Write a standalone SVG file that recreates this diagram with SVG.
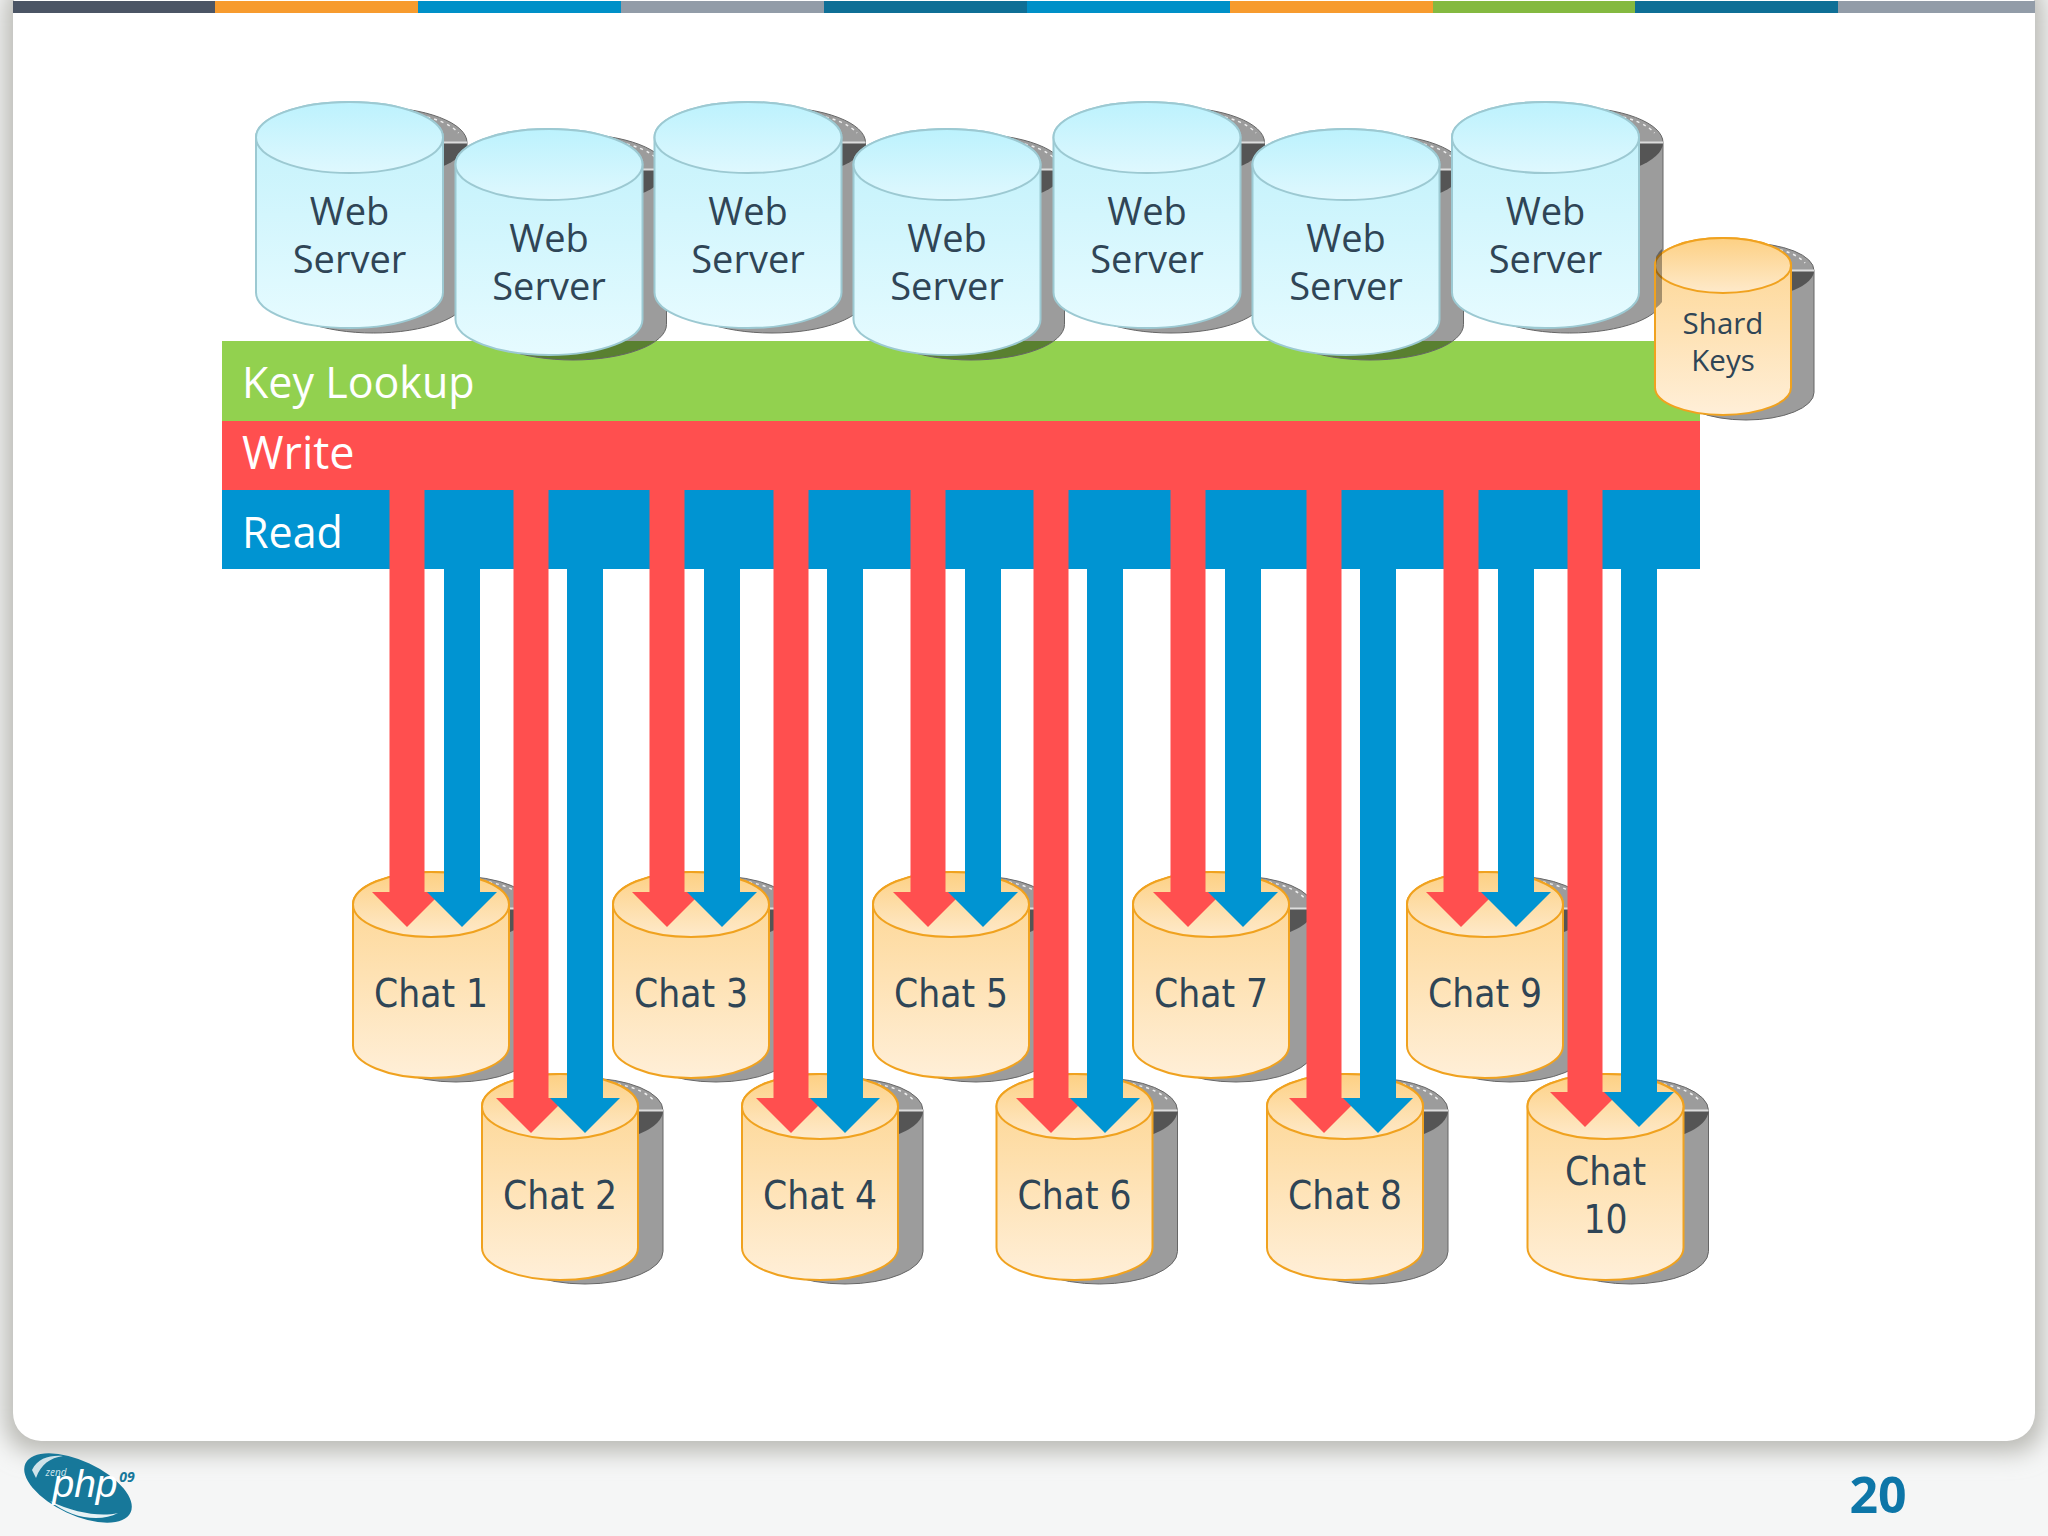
<svg xmlns="http://www.w3.org/2000/svg" xmlns:xlink="http://www.w3.org/1999/xlink" width="2048" height="1536" viewBox="0 0 2048 1536">
<style>
text{font-family:"Open Sans","Noto Sans","Liberation Sans",sans-serif;text-anchor:middle;fill:#2f4556}
.web{font-size:38px}.shard{font-size:29.500px}
.chat{font-family:"DejaVu Sans Condensed","DejaVu Sans",sans-serif;font-stretch:condensed;font-size:38.500px}
.band{font-size:43px;fill:#fff;text-anchor:start}
.sb{fill:#000;fill-opacity:.39;stroke:#666;stroke-width:1}
.sd{fill:#444;fill-opacity:.8}
.sl{stroke:#ddd;stroke-width:2;fill:none}
.sa{stroke:#eee;stroke-width:1.500;stroke-dasharray:3 4;fill:none}
.wb{fill:url(#webBody);stroke:#9cc9d2;stroke-width:2}
.wt{fill:url(#webTop);stroke:#9cc9d2;stroke-width:2}
.cb{fill:url(#chatBody);stroke:#f0a21f;stroke-width:2}
.ct{fill:url(#chatTop);stroke:#f0a21f;stroke-width:2}
.r{stroke:#ff4f4f;stroke-width:35;marker-end:url(#hr);fill:none}
.b{stroke:#0094d2;stroke-width:36;marker-end:url(#hb);fill:none}
</style>
<defs>
<filter id="soft" x="-5%" y="-5%" width="110%" height="110%"><feGaussianBlur stdDeviation="12"/></filter>
<linearGradient id="webBody" x1="0" y1="0" x2="0" y2="1"><stop offset="0" stop-color="#c0f1fb"/><stop offset="1" stop-color="#e6fbff"/></linearGradient>
<linearGradient id="webTop" x1="0" y1="0" x2="0" y2="1"><stop offset="0" stop-color="#bcf2fd"/><stop offset="1" stop-color="#dff8fe"/></linearGradient>
<linearGradient id="chatBody" x1="0" y1="0" x2="0" y2="1"><stop offset="0" stop-color="#fdd48e"/><stop offset="1" stop-color="#ffefd8"/></linearGradient>
<linearGradient id="chatTop" x1="0" y1="0" x2="0" y2="1"><stop offset="0" stop-color="#fdd083"/><stop offset="1" stop-color="#feeacb"/></linearGradient>
<marker id="hr" markerUnits="userSpaceOnUse" viewBox="0 -36 36 72" refX="0" refY="0" markerWidth="36" markerHeight="72" orient="auto"><path d="M0,-35L35,0L0,35Z" fill="#ff4f4f"/></marker>
<marker id="hb" markerUnits="userSpaceOnUse" viewBox="0 -36 36 72" refX="0" refY="0" markerWidth="36" markerHeight="72" orient="auto"><path d="M0,-35L35,0L0,35Z" fill="#0094d2"/></marker>
<g id="webShape">
<g transform="translate(24,5)">
<path class="sb" d="M-93.5,35.5V190.5A93.5,35.5 0 0 0 93.5,190.5V35.5A93.5,35.5 0 0 0 -93.5,35.5Z"/>
<path class="sd" d="M-93.5,35.5A93.5,35.5 0 0 0 93.5,35.5Z"/>
<path class="sl" d="M0,35.5H93.5"/>
<path class="sa" d="M40,7A88,31 0 0 1 85,26"/>
</g>
<path class="wb" d="M-93.5,35.5V190.5A93.5,35.5 0 0 0 93.5,190.5V35.5A93.5,35.5 0 0 0 -93.5,35.5Z"/>
<ellipse class="wt" cx="0" cy="35.5" rx="93.5" ry="35.5"/>
</g>
<g id="chatShape">
<g transform="translate(25,4)">
<path class="sb" d="M-78,32.5V173.5A78,32.5 0 0 0 78,173.5V32.5A78,32.5 0 0 0 -78,32.5Z"/>
<path class="sd" d="M-78,32.5A78,32.5 0 0 0 78,32.5Z"/>
<path class="sl" d="M0,32.5H78"/>
<path class="sa" d="M33,6A73,29 0 0 1 70,24"/>
</g>
<path class="cb" d="M-78,32.5V173.5A78,32.5 0 0 0 78,173.5V32.5A78,32.5 0 0 0 -78,32.5Z"/>
<ellipse class="ct" cx="0" cy="32.5" rx="78" ry="32.5"/>
</g>
</defs>

<g id="background">
<rect width="2048" height="1536" fill="#f5f6f6"/>
<rect x="5" y="-20" width="2038" height="1472" rx="30" fill="#b8b8b2" filter="url(#soft)"/>
<rect x="13" y="-20" width="2022" height="1461" rx="28" fill="#fff"/>
</g>
<g id="topbar">
<rect x="13" y="1" width="202" height="12" fill="#4b5565"/>
<rect x="215" y="1" width="203" height="12" fill="#f79b2e"/>
<rect x="418" y="1" width="203" height="12" fill="#0090c8"/>
<rect x="621" y="1" width="203" height="12" fill="#929ca8"/>
<rect x="824" y="1" width="203" height="12" fill="#0f6f96"/>
<rect x="1027" y="1" width="203" height="12" fill="#0090c8"/>
<rect x="1230" y="1" width="203" height="12" fill="#f79b2e"/>
<rect x="1433" y="1" width="202" height="12" fill="#84b940"/>
<rect x="1635" y="1" width="203" height="12" fill="#0f6f96"/>
<rect x="1838" y="1" width="197" height="12" fill="#929ca8"/>
</g>

<g id="band-key-lookup"><rect x="222" y="341" width="1478" height="80" fill="#92d14f"/><text class="band" x="242" y="398">Key Lookup</text></g>
<g id="band-write"><rect x="222" y="421" width="1478" height="70" fill="#ff4f4f"/><text class="band" x="242" y="469" style="font-size:45px">Write</text></g>
<g id="band-read"><rect x="222" y="490" width="1478" height="79" fill="#0094d2"/><text class="band" x="242" y="548">Read</text></g>

<g id="web-1"><use xlink:href="#webShape" href="#webShape" x="349.5" y="102"/><text class="web" x="349.5" y="225">Web</text><text class="web" x="349.5" y="273">Server</text></g>
<g id="web-2"><use xlink:href="#webShape" href="#webShape" x="549" y="129"/><text class="web" x="549" y="252">Web</text><text class="web" x="549" y="300">Server</text></g>
<g id="web-3"><use xlink:href="#webShape" href="#webShape" x="748" y="102"/><text class="web" x="748" y="225">Web</text><text class="web" x="748" y="273">Server</text></g>
<g id="web-4"><use xlink:href="#webShape" href="#webShape" x="947" y="129"/><text class="web" x="947" y="252">Web</text><text class="web" x="947" y="300">Server</text></g>
<g id="web-5"><use xlink:href="#webShape" href="#webShape" x="1147" y="102"/><text class="web" x="1147" y="225">Web</text><text class="web" x="1147" y="273">Server</text></g>
<g id="web-6"><use xlink:href="#webShape" href="#webShape" x="1346" y="129"/><text class="web" x="1346" y="252">Web</text><text class="web" x="1346" y="300">Server</text></g>
<g id="web-7"><use xlink:href="#webShape" href="#webShape" x="1545.5" y="102"/><text class="web" x="1545.5" y="225">Web</text><text class="web" x="1545.5" y="273">Server</text></g>

<g id="shard-keys">
<g transform="translate(23,5)">
<path class="sb" d="M1655,265.500V387.500A68,27.500 0 0 0 1791,387.500V265.500A68,27.500 0 0 0 1655,265.500Z"/>
<path class="sd" d="M1655,265.500A68,27.500 0 0 0 1791,265.500Z"/>
<path class="sl" d="M1723,265.500H1791"/>
<path class="sa" d="M1750,243A64,25 0 0 1 1782,258"/>
</g>
<path class="cb" d="M1655,265.500V387.500A68,27.500 0 0 0 1791,387.500V265.500A68,27.500 0 0 0 1655,265.500Z"/>
<ellipse class="ct" cx="1723" cy="265.500" rx="68" ry="27.500"/>
<path d="M1656,257Q1658,252 1662,249V302Q1660,305 1656,308Z" fill="#000" fill-opacity=".35"/>
<text class="shard" x="1723" y="334">Shard</text><text class="shard" x="1723" y="371">Keys</text>
</g>

<g id="chat-1"><use xlink:href="#chatShape" href="#chatShape" x="431" y="872"/><text class="chat" x="431" y="1007">Chat 1</text></g>
<g id="chat-3"><use xlink:href="#chatShape" href="#chatShape" x="691" y="872"/><text class="chat" x="691" y="1007">Chat 3</text></g>
<g id="chat-5"><use xlink:href="#chatShape" href="#chatShape" x="951" y="872"/><text class="chat" x="951" y="1007">Chat 5</text></g>
<g id="chat-7"><use xlink:href="#chatShape" href="#chatShape" x="1211" y="872"/><text class="chat" x="1211" y="1007">Chat 7</text></g>
<g id="chat-9"><use xlink:href="#chatShape" href="#chatShape" x="1485" y="872"/><text class="chat" x="1485" y="1007">Chat 9</text></g>
<g id="chat-2"><use xlink:href="#chatShape" href="#chatShape" x="560" y="1074"/><text class="chat" x="560" y="1209">Chat 2</text></g>
<g id="chat-4"><use xlink:href="#chatShape" href="#chatShape" x="820" y="1074"/><text class="chat" x="820" y="1209">Chat 4</text></g>
<g id="chat-6"><use xlink:href="#chatShape" href="#chatShape" x="1074.500" y="1074"/><text class="chat" x="1074.500" y="1209">Chat 6</text></g>
<g id="chat-8"><use xlink:href="#chatShape" href="#chatShape" x="1345" y="1074"/><text class="chat" x="1345" y="1209">Chat 8</text></g>
<g id="chat-10"><use xlink:href="#chatShape" href="#chatShape" x="1605.500" y="1074"/><text class="chat" x="1605.500" y="1185">Chat</text><text class="chat" x="1605.500" y="1233">10</text></g>

<g id="connectors">
<line class="r" x1="407" y1="490" x2="407" y2="892"/><line class="b" x1="462" y1="490" x2="462" y2="892"/>
<line class="r" x1="531" y1="490" x2="531" y2="1098"/><line class="b" x1="585" y1="490" x2="585" y2="1098"/>
<line class="r" x1="667" y1="490" x2="667" y2="892"/><line class="b" x1="722" y1="490" x2="722" y2="892"/>
<line class="r" x1="791" y1="490" x2="791" y2="1098"/><line class="b" x1="845" y1="490" x2="845" y2="1098"/>
<line class="r" x1="928" y1="490" x2="928" y2="892"/><line class="b" x1="983" y1="490" x2="983" y2="892"/>
<line class="r" x1="1051" y1="490" x2="1051" y2="1098"/><line class="b" x1="1105" y1="490" x2="1105" y2="1098"/>
<line class="r" x1="1188" y1="490" x2="1188" y2="892"/><line class="b" x1="1243" y1="490" x2="1243" y2="892"/>
<line class="r" x1="1324" y1="490" x2="1324" y2="1098"/><line class="b" x1="1378" y1="490" x2="1378" y2="1098"/>
<line class="r" x1="1461" y1="490" x2="1461" y2="892"/><line class="b" x1="1516" y1="490" x2="1516" y2="892"/>
<line class="r" x1="1585" y1="490" x2="1585" y2="1092"/><line class="b" x1="1639" y1="490" x2="1639" y2="1092"/>
</g>

<g id="logo">
<ellipse cx="78" cy="1488" rx="58" ry="27" transform="rotate(25 78 1488)" fill="#17789a"/>
<path d="M32,1470C38,1458 50,1455 63,1456C50,1458 41,1464 36,1478Z" fill="#cfe3ea"/>
<path d="M50,1501C75,1513 100,1517 118,1513C100,1523 70,1518 50,1501Z" fill="#e8f2f5"/>
<text x="56" y="1476" style="font-size:10px;fill:#cfe6ee;font-style:italic">zend</text>
<text x="85" y="1497" style="font-size:39px;fill:#fff;font-style:italic;font-family:'Liberation Sans',sans-serif">php</text>
<text x="127" y="1482" style="font-size:14px;fill:#17789a;font-style:italic;font-weight:bold">09</text>
</g>
<text id="page-number" x="1878" y="1513" style="font-size:50px;font-weight:700;fill:#0d76a8">20</text>
</svg>
